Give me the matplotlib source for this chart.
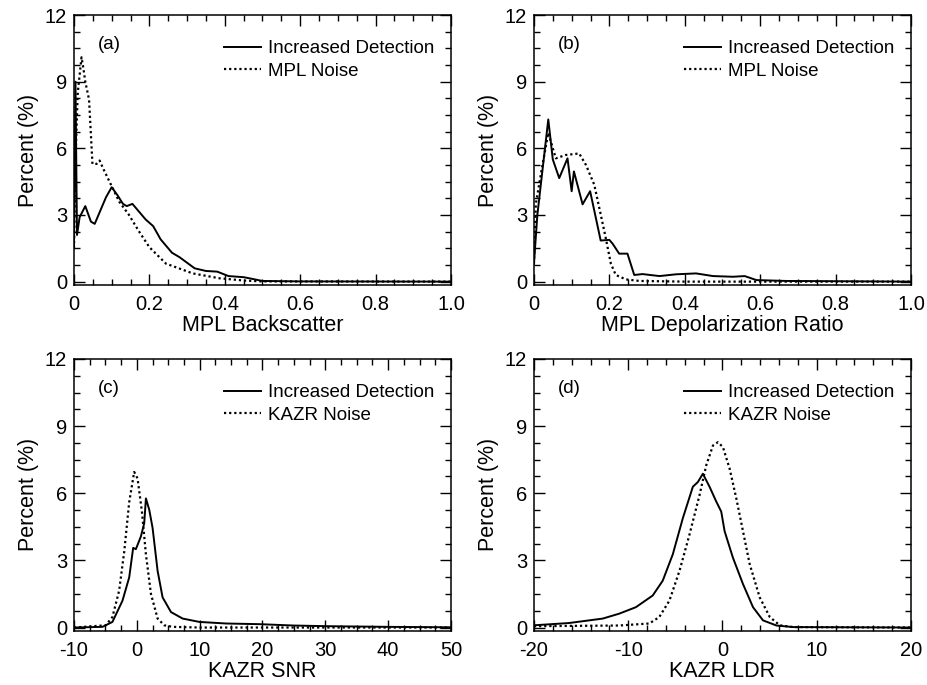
import matplotlib
matplotlib.use("Agg")
import matplotlib.pyplot as plt
from matplotlib.ticker import MultipleLocator

plt.rcParams['font.family'] = ['Liberation Sans', 'DejaVu Sans']

# (a) MPL backscatter
bs_det_x = [0.0, 0.004, 0.008, 0.015, 0.03, 0.045, 0.055, 0.07, 0.085, 0.1, 0.115, 0.13,
            0.14, 0.155, 0.17, 0.19, 0.21, 0.23, 0.26, 0.28, 0.3, 0.32, 0.35, 0.38, 0.41,
            0.45, 0.48, 0.5, 0.6, 1.0]
bs_det_y = [1.5, 9.0, 2.1, 2.9, 3.4, 2.7, 2.6, 3.2, 3.8, 4.25, 3.9, 3.5,
            3.4, 3.5, 3.2, 2.8, 2.5, 1.9, 1.3, 1.1, 0.85, 0.6, 0.48, 0.45, 0.25,
            0.2, 0.1, 0.03, 0.01, 0.0]
bs_noise_x = [0.0, 0.005, 0.01, 0.015, 0.02, 0.025, 0.03, 0.04, 0.049, 0.06, 0.068, 0.08,
              0.1, 0.12, 0.146, 0.171, 0.2, 0.244, 0.315, 0.386, 0.45, 0.5, 1.0]
bs_noise_y = [1.5, 6.0, 8.5, 9.3, 10.1, 9.6, 9.0, 8.2, 5.3, 5.3, 5.45, 5.0,
              4.3, 3.6, 3.0, 2.3, 1.55, 0.81, 0.37, 0.15, 0.05, 0.01, 0.0]

# (b) MPL depolarization ratio
dp_det_x = [0.0, 0.009, 0.038, 0.05, 0.067, 0.089, 0.1, 0.106, 0.129, 0.149, 0.177, 0.2,
            0.209, 0.226, 0.248, 0.266, 0.288, 0.333, 0.377, 0.43, 0.475, 0.528, 0.559,
            0.59, 0.67, 1.0]
dp_det_y = [0.8, 3.0, 7.3, 5.5, 4.66, 5.55, 4.07, 4.96, 3.48, 4.07, 1.85, 1.88,
            1.7, 1.26, 1.26, 0.3, 0.34, 0.25, 0.33, 0.37, 0.25, 0.22, 0.25,
            0.07, 0.03, 0.0]
dp_noise_x = [0.0, 0.005, 0.02, 0.038, 0.058, 0.084, 0.12, 0.138, 0.16, 0.177, 0.19,
              0.204, 0.217, 0.244, 0.28, 0.4, 1.0]
dp_noise_y = [0.8, 3.5, 5.0, 6.7, 5.55, 5.7, 5.77, 5.25, 4.36, 3.03, 2.0,
              0.81, 0.3, 0.1, 0.03, 0.0, 0.0]

# (c) KAZR SNR
snr_det_x = [-10, -5.47, -3.88, -2.28, -1.21, -0.58, -0.15, 0.65, 1.18, 1.45, 1.98, 2.51,
             3.31, 4.1, 5.44, 7.3, 9.97, 14.2, 19.55, 24.9, 30.2, 40, 50]
snr_det_y = [0.0, 0.03, 0.25, 1.2, 2.24, 3.56, 3.5, 4.07, 4.66, 5.77, 5.26, 4.45,
             2.53, 1.35, 0.69, 0.4, 0.25, 0.18, 0.15, 0.09, 0.06, 0.03, 0.01]
snr_noise_x = [-10, -4.94, -3.88, -2.81, -2.0, -1.21, -0.42, 0.12, 0.81, 1.45, 2.25,
               3.31, 4.38, 5.7, 10, 50]
snr_noise_y = [0.0, 0.1, 0.47, 1.65, 3.4, 5.6, 6.95, 6.66, 5.19, 3.27, 1.5,
               0.4, 0.1, 0.03, 0.0, 0.0]

# (d) KAZR LDR
ldr_det_x = [-20, -16.3, -12.7, -10.95, -9.18, -7.4, -6.34, -5.27, -4.2, -3.14, -2.61,
             -2.08, -1.37, -0.66, -0.13, 0.23, 1.11, 2.18, 3.24, 4.3, 5.73, 7.5, 20]
ldr_det_y = [0.1, 0.2, 0.4, 0.62, 0.91, 1.43, 2.09, 3.27, 4.89, 6.29, 6.5,
             6.87, 6.29, 5.63, 5.18, 4.3, 3.12, 1.94, 0.91, 0.32, 0.09, 0.02, 0.0]
ldr_noise_x = [-20, -10.95, -7.76, -6.7, -5.63, -4.56, -3.5, -2.43, -1.72, -1.01, -0.48,
               0.05, 0.76, 1.47, 2.18, 2.89, 3.95, 5.02, 6.08, 7.5, 20]
ldr_noise_y = [0.06, 0.09, 0.18, 0.47, 1.2, 2.53, 4.15, 5.92, 7.25, 8.13, 8.28,
               8.06, 7.1, 5.77, 4.3, 2.83, 1.35, 0.47, 0.1, 0.02, 0.0]


def frac_fmt(v, pos):
    return "0" if abs(v) < 1e-9 else f"{v:.1f}"


def int_fmt(v, pos):
    return f"{v:.0f}"


panels = [
    ("(a)", "MPL Backscatter", "MPL Noise", bs_det_x, bs_det_y, bs_noise_x, bs_noise_y,
     (0, 1.0), 0.2, 0.05, frac_fmt),
    ("(b)", "MPL Depolarization Ratio", "MPL Noise", dp_det_x, dp_det_y, dp_noise_x, dp_noise_y,
     (0, 1.0), 0.2, 0.05, frac_fmt),
    ("(c)", "KAZR SNR", "KAZR Noise", snr_det_x, snr_det_y, snr_noise_x, snr_noise_y,
     (-10, 50), 10, 2.5, int_fmt),
    ("(d)", "KAZR LDR", "KAZR Noise", ldr_det_x, ldr_det_y, ldr_noise_x, ldr_noise_y,
     (-20, 20), 10, 2, int_fmt),
]

# axes boxes in figure fractions (left, bottom, width, height)
boxes = [
    (0.0798, 0.584, 0.4067, 0.394),
    (0.576, 0.584, 0.4067, 0.394),
    (0.0798, 0.079, 0.4067, 0.397),
    (0.576, 0.079, 0.4067, 0.397),
]

fig = plt.figure(figsize=(9.27, 6.85), dpi=100)

for box, (tag, xlab, nlab, dx, dy, nx, ny, xlim, major, minor, fmt) in zip(boxes, panels):
    ax = fig.add_axes(box)
    ax.plot(dx, dy, color="black", lw=1.4, label="Increased Detection")
    ax.plot(nx, ny, color="black", lw=1.6, linestyle=(0, (1, 1.3)), label=nlab)
    ax.set_xlim(*xlim)
    ax.set_ylim(-0.15, 12)
    ax.xaxis.set_major_locator(MultipleLocator(major))
    ax.xaxis.set_minor_locator(MultipleLocator(minor))
    ax.yaxis.set_major_locator(MultipleLocator(3))
    ax.yaxis.set_minor_locator(MultipleLocator(0.75))
    ax.xaxis.set_major_formatter(plt.FuncFormatter(fmt))
    ax.tick_params(which="both", direction="in", top=True, right=True, labelsize=14.5)
    ax.tick_params(axis="x", which="major", length=8, width=1.0, pad=7)
    ax.tick_params(axis="y", which="major", length=8, width=1.0, pad=5)
    ax.tick_params(which="minor", length=4, width=1.0)
    for s in ax.spines.values():
        s.set_linewidth(1.1)
    ax.set_xlabel(xlab, fontsize=15.5, labelpad=1)
    ax.set_ylabel("Percent (%)", fontsize=15.5, labelpad=4)
    ax.text(0.064, 0.89, tag, transform=ax.transAxes, fontsize=13.5, va="center")
    ax.legend(loc="upper right", frameon=False, fontsize=13.5, handlelength=2.0,
              handletextpad=0.35, labelspacing=0.3, borderaxespad=0.5,
              bbox_to_anchor=(1.0, 0.97))

fig.savefig("out.png", dpi=100)
